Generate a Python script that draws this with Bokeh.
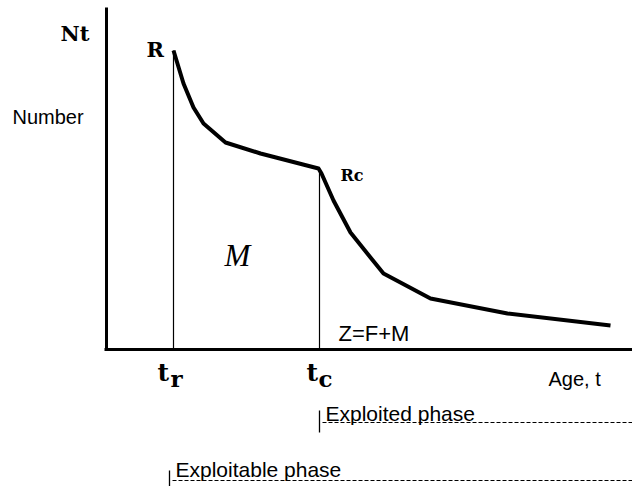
from bokeh.plotting import figure
from bokeh.models import Range1d
from bokeh.core.properties import value
from bokeh.embed import file_html
from bokeh.resources import INLINE

# ---- data (arbitrary units: age along x, number of survivors Nt along y) ----
ages = [6.7, 7.7, 8.7, 9.7, 11.9, 15.4, 21.2, 21.5, 22.7, 24.4, 26.4, 27.7, 32.4, 40.1, 50.4]
numbers = [29.9, 26.6, 24.2, 22.6, 20.7, 19.6, 18.1, 17.6, 14.9, 11.7, 9.2, 7.6, 5.1, 3.6, 2.4]
t_r = 6.7      # age at recruitment
t_c = 21.3     # age at first capture
N_r = 29.9     # R
N_c = 18.1     # Rc
age_max = 53.0
N_top = 34.2

W, H = 632, 486

# ---- layout helpers (reference pixel -> data units) ----
def dx(px):
    return (px - 106) / 10.0

def dy(py):
    return (349 - py) / 10.0

p = figure(width=W, height=H, output_backend="svg", toolbar_location=None,
           x_range=Range1d(dx(0), dx(W)), y_range=Range1d(dy(H), dy(0)),
           x_axis_location=None, y_axis_location=None, min_border=0)
p.grid.visible = False
p.outline_line_color = None
p.background_fill_color = "white"

# axes drawn as thick lines
p.line([0, 0], [0, N_top], line_color="black", line_width=3)
p.line([dx(104), age_max], [0, 0], line_color="black", line_width=3)

# vertical markers at t_r and t_c
p.line([t_r, t_r], [0, N_r], line_color="black", line_width=1.2)
p.line([t_c, t_c], [0, N_c], line_color="black", line_width=1.2)

# survival curve
p.line(ages, numbers, line_color="black", line_width=4, line_join="round")

# phase indicators
p.line([t_c, t_c], [dy(410), dy(432)], line_color="black", line_width=1.3)
p.line([t_c + 0.3, age_max + 2], [dy(422), dy(422)], line_color="black", line_width=1, line_dash="4 2")
p.line([t_r - 0.4, t_r - 0.4], [dy(470), dy(490)], line_color="black", line_width=1.3)
p.line([t_r - 0.1, age_max + 2], [dy(480), dy(480)], line_color="black", line_width=1, line_dash="4 2")

def txt(px, py, s, font, size, style="normal"):
    p.text(x=[dx(px)], y=[dy(py)], text=[s], text_font=value(font),
           text_font_size=f"{size}px", text_font_style=style, text_color="black",
           text_align="left", text_baseline="alphabetic")

serif = "DejaVu Serif"
sans = "Liberation Sans"
txt(60, 33, "Nt", serif, 21, "bold")
txt(146, 49, "R", serif, 21, "bold")
txt(12, 116, "Number", sans, 20)
txt(340, 175, "Rc", serif, 16, "bold")
txt(224, 255, "M", "Liberation Serif", 31, "italic")
txt(338, 333, "Z=F+M", sans, 22)
txt(157, 372, "t", serif, 25, "bold")
txt(170, 378, "r", serif, 23, "bold")
txt(306, 372, "t", serif, 25, "bold")
txt(318, 378, "c", serif, 23, "bold")
txt(548, 378, "Age, t", sans, 20)
txt(325, 413, "Exploited phase", sans, 21)
txt(175, 469, "Exploitable phase", sans, 21)

open("out.html", "w").write(file_html(p, INLINE))
